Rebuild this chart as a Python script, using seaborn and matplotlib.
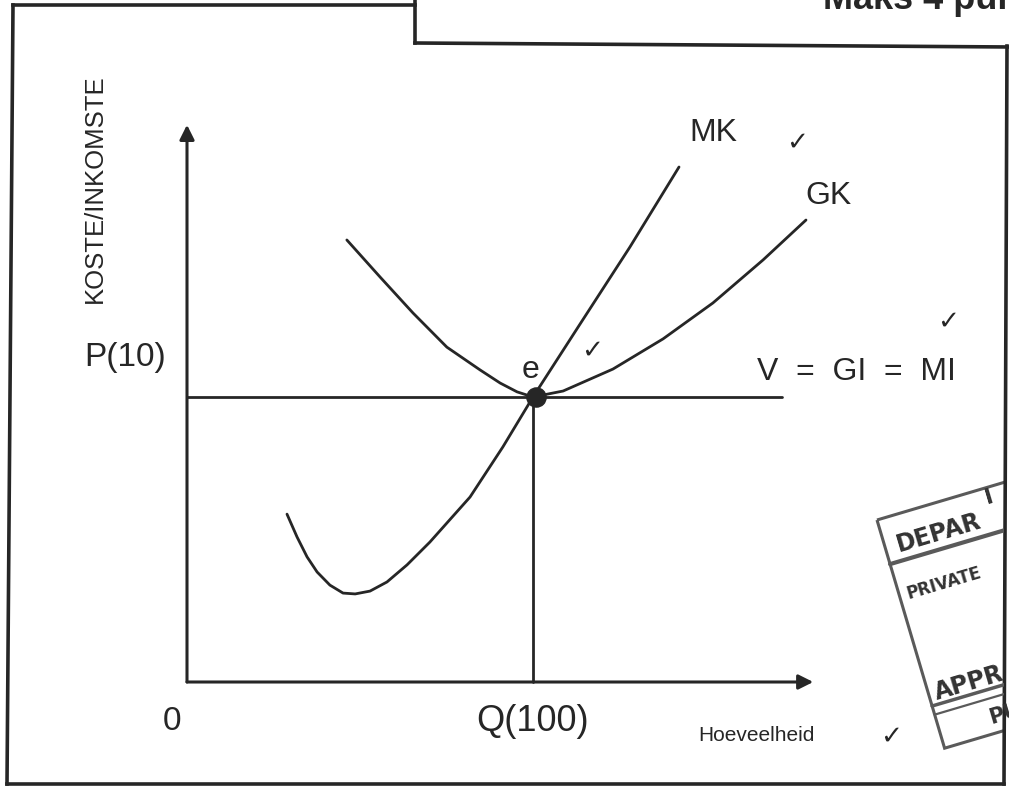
import numpy as np
import seaborn as sns
import matplotlib.pyplot as plt
from matplotlib.patches import Polygon, Rectangle

# marginal cost (MK) and average cost (GK)
mk_q = [28.9, 31.8, 34.7, 37.6, 41.3, 45.1, 48.6, 52.9, 57.8, 63.6, 70.2, 81.8, 91.3, 100, 113.6, 128.0, 142.2]
mk_c = [5.89, 5.09, 4.39, 3.86, 3.40, 3.12, 3.09, 3.19, 3.51, 4.11, 4.91, 6.49, 8.25, 10, 12.56, 15.26, 18.07]
gk_q = [46.2, 55.8, 65.3, 75.1, 84.7, 90.5, 95.4, 100, 108.7, 123.1, 137.6, 152.0, 166.5, 178.9]
gk_c = [15.51, 14.21, 12.95, 11.75, 10.95, 10.49, 10.18, 10, 10.21, 10.98, 12.04, 13.30, 14.81, 16.21]

price = 10        # P(10)
quantity = 100    # Q(100)
mr_q = [0, 172]   # V = GI = MI line
mr_c = [price, price]

ink = "#262626"

sns.set_theme(style="white")
plt.rcParams["font.family"] = ["Liberation Sans", "DejaVu Sans"]

fig = plt.figure(figsize=(10.09, 7.89), dpi=100)
ax = fig.add_axes([0, 0, 1, 1])
sx, sy = 3.46, 28.5  # pixels per unit
ax.set_xlim(-187 / sx, (1009 - 187) / sx)
ax.set_ylim(-(789 - 682) / sy, 682 / sy)
ax.axis("off")

sns.lineplot(x=mk_q, y=mk_c, sort=False, estimator=None, ax=ax, color=ink, lw=2.0)
sns.lineplot(x=gk_q, y=gk_c, sort=False, estimator=None, ax=ax, color=ink, lw=2.0)
sns.lineplot(x=mr_q, y=mr_c, sort=False, estimator=None, ax=ax, color=ink, lw=2.0)
ax.plot([quantity, quantity], [0, price], color=ink, lw=2.0)
ax.scatter([quantity + 0.8], [price], s=190, color=ink, zorder=5)

# axes with arrows
arr = dict(arrowstyle="-|>", color=ink, lw=2.2, mutation_scale=22, shrinkA=0, shrinkB=0)
ax.annotate("", xy=(0, 19.55), xytext=(0, 0), arrowprops=arr)
ax.annotate("", xy=(181, 0), xytext=(0, 0), arrowprops=arr)

ax.text(-26.5, 17.3, "KOSTE/INKOMSTE", rotation=90, ha="center", va="center", fontsize=18.5, color=ink)
ax.text(-17.9, 11.37, "P(10)", ha="center", va="center", fontsize=24, color=ink)
ax.text(-4.3, -1.4, "0", ha="center", va="center", fontsize=24, color=ink)
ax.text(quantity, -1.4, "Q(100)", ha="center", va="center", fontsize=26, color=ink)
ax.text(164.6, -1.86, "Hoeveelheid", ha="center", va="center", fontsize=15, color=ink)
ax.text(152.0, 19.26, "MK", ha="center", va="center", fontsize=23, color=ink)
ax.text(185.3, 17.05, "GK", ha="center", va="center", fontsize=23, color=ink)
ax.text(164.7, 10.88, "V  =  GI  =  MI", ha="left", va="center", fontsize=23, color=ink)
ax.text(99.4, 10.95, "e", ha="center", va="center", fontsize=23, color=ink)

# overlay in pixel coordinates: scan frame, marker's ticks, stamp
deco = fig.add_axes([0, 0, 1, 1])
deco.set_xlim(0, 1009)
deco.set_ylim(789, 0)
deco.axis("off")
deco.patch.set_alpha(0)

fk = dict(color=ink, lw=2.6, solid_capstyle="projecting")
deco.plot([13, 415], [5, 5], **fk)
deco.plot([13, 7], [5, 784], **fk)
deco.plot([7, 1004], [784, 784], **fk)
deco.plot([1007, 1004], [46, 784], **fk)
deco.plot([415, 415], [-5, 43], **fk)
deco.plot([415, 1012], [43, 47], **fk)
deco.text(823, 9, "Maks 4 punte", ha="left", va="baseline", fontsize=26, fontweight="bold", color=ink)

for cx, cy in [(797, 143), (948, 322), (592, 351), (891, 737)]:
    deco.text(cx, cy, "\u2713", ha="center", va="center", fontsize=19, color=ink,
              family=["DejaVu Sans"])

# partial rubber stamp cut off by the right frame
t = np.deg2rad(16.5)
o = np.array([877.0, 520.0])
u = np.array([np.cos(t), -np.sin(t)])
v = np.array([np.sin(t), np.cos(t)])


def sp(a, b):
    return o + a * u + b * v


clip = Rectangle((0, 0), 1004, 789, transform=deco.transData)
sc = "#5a5a5a"
outer = Polygon([sp(0, 0), sp(220, 0), sp(220, 238), sp(0, 238)], closed=True,
                fill=False, ec=sc, lw=2.2)
deco.add_patch(outer)
outer.set_clip_path(clip)
for b, w in [(46, 3.0), (194, 2.5), (203, 1.6)]:
    p0, p1 = sp(0, b), sp(220, b)
    ln, = deco.plot([p0[0], p1[0]], [p0[1], p1[1]], color=sc, lw=w)
    ln.set_clip_path(clip)
for a, b, s, fz in [(12, 30, "DEPAR", 17), (8, 80, "PRIVATE", 12), (6, 182, "APPR", 17), (52, 222, "PU", 15)]:
    p = sp(a, b)
    tx = deco.text(p[0], p[1], s, rotation=16.5, rotation_mode="anchor", ha="left", va="center",
                   fontsize=fz, fontweight="bold", color="#333333", family=["DejaVu Sans"])
    tx.set_clip_path(clip)
p = sp(110, 10)
tx = deco.text(p[0], p[1], "I", rotation=16.5, rotation_mode="anchor", ha="left", va="center",
               fontsize=16, fontweight="bold", color="#333333", family=["DejaVu Sans"])
tx.set_clip_path(clip)

fig.savefig("out.png", dpi=100)
plt.close(fig)
